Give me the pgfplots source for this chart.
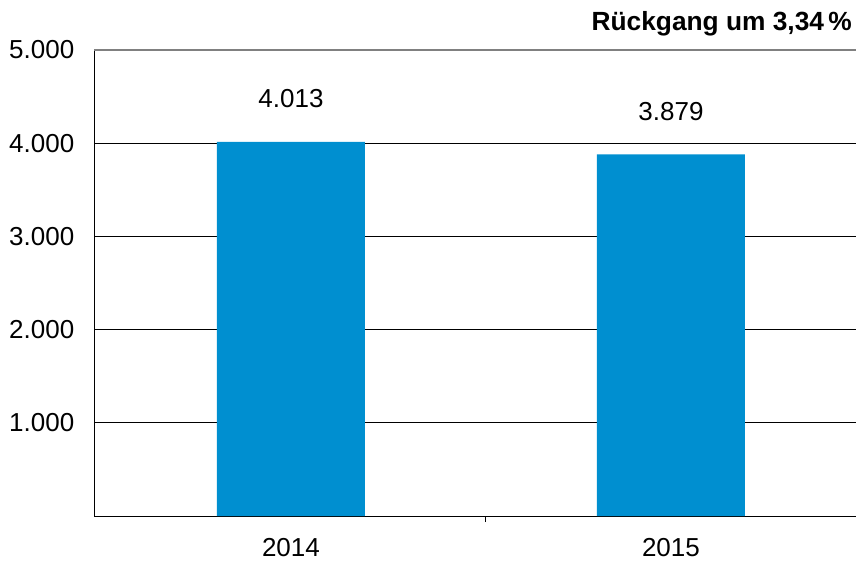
\documentclass[border=0pt]{standalone}
\usepackage{fontspec}
\setmainfont{Liberation Sans}
\usepackage{pgfplots}
\pgfplotsset{compat=1.18}
\definecolor{barblue}{RGB}{0,143,208}
\newcommand{\lbl}{\fontsize{26bp}{31bp}\selectfont}
\begin{document}
\begin{tikzpicture}
\path[use as bounding box] (-94.5bp,-46bp) rectangle (763.5bp,516bp);
\begin{axis}[
    at={(0,0)}, anchor=south west,
    scale only axis, width=761.5bp, height=466bp,
    ybar, bar width=148bp,
    xmin=-0.517, xmax=1.487, ymin=0, ymax=5000,
    axis x line=bottom, axis y line=left,
    axis line style={-, black, line width=0.8bp},
    /pgf/number format/.cd, 1000 sep={.}, assume math mode=true, /pgfplots/.cd,
    xtick={0,1}, xticklabels={2014,2015},
    ytick={1000,2000,3000,4000},
    extra y ticks={5000},
    extra y tick style={grid style={gray, line width=1.2bp}},
    extra x ticks={0.513}, extra x tick labels={},
    extra x tick style={major tick length=6bp},
    major tick length=0pt, tick align=outside,
    tick style={black, line width=0.8bp},
    ymajorgrids, grid style={black, line width=0.8bp},
    tick label style={font=\lbl},
    yticklabel style={inner sep=0pt, xshift=-20bp},
    xticklabel style={inner sep=0pt, yshift=-22bp},
    nodes near coords={\pgfmathprintnumber{\pgfplotspointmeta}},
    every node near coord/.append style={font=\lbl, inner sep=0pt, yshift=34bp, black},
    clip=false,
]
% Werte laut Beschriftung
\addplot[fill=barblue, draw=none] coordinates {(0,4013) (1,3879)};

\node[anchor=base east, inner sep=0pt, xshift=-4bp, yshift=19bp,
      font=\bfseries\fontsize{26.3bp}{30bp}\selectfont]
    at (rel axis cs:1,1) {Rückgang um 3,34\,\%};
\end{axis}
\end{tikzpicture}
\end{document}
